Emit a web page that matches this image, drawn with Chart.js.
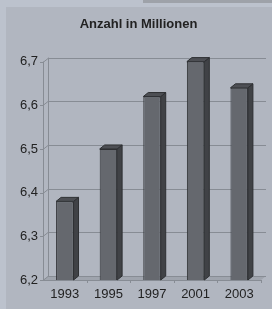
<!DOCTYPE html>
<html>
<head>
<meta charset="utf-8">
<script src="https://cdn.jsdelivr.net/npm/chart.js@4.4.1/dist/chart.umd.min.js"></script>
<style>
  html, body { margin: 0; padding: 0; background: #bcc2cd; }
  #wrap { width: 272px; height: 309px; position: relative; }
</style>
</head>
<body>
<div id="wrap"><canvas id="myChart" width="272" height="309"></canvas></div>
<script>
// data
const years = ["1993", "1995", "1997", "2001", "2003"];
const anzahl = [6.38, 6.5, 6.62, 6.7, 6.64];
const yMin = 6.2;
const yMax = 6.7;
const yStep = 0.1;

// depth of the fake 3d look
const DX = 5;
const DY = 4;

const fmt = (v) => v.toFixed(1).replace(".", ",");

// background panel + strips
const backdrop = {
  id: "backdrop",
  beforeDraw(chart) {
    const c = chart.ctx;
    c.save();
    c.fillStyle = "#bcc2cd";
    c.fillRect(0, 0, chart.width, chart.height);
    c.fillStyle = "#9ea2a9";
    c.fillRect(143, 0, chart.width - 143, 3);
    c.fillStyle = "#b1b6c0";
    c.fillRect(6, 7, chart.width - 6, chart.height - 7);
    c.restore();
  },
};

// walls, floor and grid lines drawn behind the bars
const walls = {
  id: "walls",
  beforeDatasetsDraw(chart) {
    const c = chart.ctx;
    const a = chart.chartArea;
    const ys = chart.scales.y;
    c.save();
    c.lineWidth = 1;

    // floor
    c.fillStyle = "#9fa4ad";
    c.beginPath();
    c.moveTo(a.left, a.bottom);
    c.lineTo(a.right, a.bottom);
    c.lineTo(a.right + DX, a.bottom - DY);
    c.lineTo(a.left + DX, a.bottom - DY);
    c.closePath();
    c.fill();

    c.strokeStyle = "#878c94";
    ys.ticks.forEach((t) => {
      const y = Math.round(ys.getPixelForValue(t.value)) + 0.5;
      c.beginPath();
      c.moveTo(a.left - 3, y);
      c.lineTo(a.left, y);
      c.lineTo(a.left + DX, y - DY);
      c.lineTo(a.right + DX, y - DY);
      c.stroke();
    });

    // left wall edges
    c.beginPath();
    c.moveTo(a.left + 0.5, a.top);
    c.lineTo(a.left + 0.5, a.bottom);
    c.moveTo(a.left + DX + 0.5, a.top - DY);
    c.lineTo(a.left + DX + 0.5, a.bottom - DY);
    c.stroke();

    // category ticks on the front edge of the floor
    const n = years.length;
    const step = (a.right - a.left) / n;
    c.beginPath();
    for (let i = 1; i <= n; i++) {
      const x = Math.round(a.left + i * step) + 0.5;
      c.moveTo(x, a.bottom);
      c.lineTo(x, a.bottom + 3);
    }
    c.moveTo(a.left, a.bottom + 0.5);
    c.lineTo(a.right, a.bottom + 0.5);
    c.stroke();
    c.restore();
  },
};

// side and top faces of each bar
const barFaces = {
  id: "barFaces",
  afterDatasetsDraw(chart) {
    const c = chart.ctx;
    const a = chart.chartArea;
    const meta = chart.getDatasetMeta(0);
    c.save();
    c.lineWidth = 1;
    c.strokeStyle = "#2e3033";
    meta.data.forEach((bar) => {
      const l = bar.x - bar.width / 2;
      const r = bar.x + bar.width / 2;
      const top = bar.y;
      const base = Math.min(bar.base, a.bottom);

      c.fillStyle = "#404246";
      c.beginPath();
      c.moveTo(r, top);
      c.lineTo(r + DX, top - DY);
      c.lineTo(r + DX, base - DY);
      c.lineTo(r, base);
      c.closePath();
      c.fill();
      c.stroke();

      c.fillStyle = "#4d4f54";
      c.beginPath();
      c.moveTo(l, top);
      c.lineTo(l + DX, top - DY);
      c.lineTo(r + DX, top - DY);
      c.lineTo(r, top);
      c.closePath();
      c.fill();
      c.stroke();
    });
    c.restore();
  },
};

const ctx = document.getElementById("myChart").getContext("2d");
const chart = new Chart(ctx, {
  type: "bar",
  data: {
    labels: years,
    datasets: [
      {
        label: "Anzahl in Millionen",
        data: anzahl,
        backgroundColor: "#65686e",
        borderColor: "#2e3033",
        borderWidth: 1,
        borderSkipped: false,
        categoryPercentage: 1,
        barPercentage: 0.4,
      },
    ],
  },
  options: {
    responsive: false,
    animation: false,
    events: [],
    layout: { padding: { left: 16, right: 11, top: 12, bottom: 0 } },
    plugins: {
      legend: { display: false },
      tooltip: { enabled: false },
      title: {
        display: true,
        text: "Anzahl in Millionen",
        color: "#222",
        font: { family: "Liberation Sans, Arial", size: 13, weight: "bold" },
        padding: { top: 5, bottom: 29 },
      },
    },
    scales: {
      x: {
        grid: { display: false, drawTicks: false },
        border: { display: false },
        ticks: {
          color: "#222",
          padding: 7,
          font: { family: "Liberation Sans, Arial", size: 13 },
        },
        afterFit(scale) {
          scale.height = 29;
        },
      },
      y: {
        min: yMin,
        max: yMax,
        grid: { display: false, drawTicks: false },
        border: { display: false },
        ticks: {
          stepSize: yStep,
          color: "#222",
          padding: 5,
          font: { family: "Liberation Sans, Arial", size: 13 },
          callback: (v) => fmt(v),
        },
        afterFit(scale) {
          scale.width = 27;
        },
      },
    },
  },
  plugins: [backdrop, walls, barFaces],
});
</script>
</body>
</html>
